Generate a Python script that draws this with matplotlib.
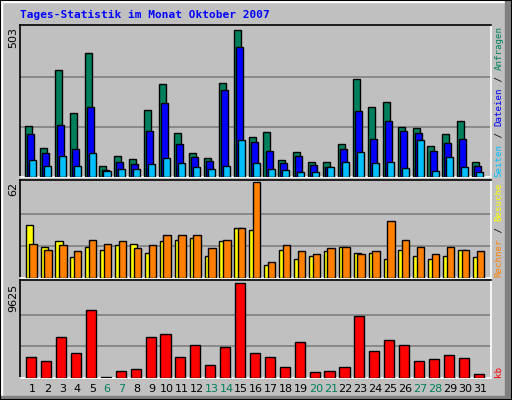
import matplotlib
matplotlib.use("Agg")
import matplotlib.pyplot as plt
from matplotlib.patches import Rectangle
import numpy as np

days = list(range(1, 32))
weekend = [6, 7, 13, 14, 20, 21, 27, 28]
hits  = [172,98,360,216,417,38,72,61,226,313,149,82,65,316,494,135,152,58,85,51,51,112,330,236,253,169,165,105,145,189,51]
files = [145,80,175,95,236,25,51,45,155,249,112,68,55,293,437,118,88,48,72,41,35,95,222,129,189,155,149,88,115,129,38]
pages = [58,38,69,36,82,20,28,28,45,65,48,35,28,38,125,48,28,25,18,18,35,51,85,48,51,31,125,21,68,35,18]
visits = [34.4,20.2,23.6,13.5,20.2,18.2,21.6,22.2,16.2,23.6,24.3,25.6,14.2,23.6,32.3,31.0,8.1,18.2,12.1,14.2,17.5,20.2,16.2,16.2,12.1,18.2,14.2,12.1,14.2,18.2,13.5]
sites = [22.2,18.2,21.6,17.5,24.3,22.2,23.6,19.5,21.6,27.6,27.6,27.6,19.5,24.3,32.3,62,10.1,21.6,17.5,15.5,19.5,20.2,15.5,17.5,37.1,24.3,20.2,15.5,20.2,18.2,17.5]
kbytes = [2115,1692,4125,2538,6875,106,740,952,4125,4442,2115,3385,1269,3173,9625,2538,2115,1163,3596,635,740,1163,6240,2750,3808,3385,1692,1904,2327,2010,423]
max_hits, max_visits, max_kb = 503, 62, 9625

W, H = 512, 400
BG = "#c0c0c0"
fig = plt.figure(figsize=(W/100, H/100), dpi=100, facecolor=BG)
mono = "DejaVu Sans Mono"
x = np.array(days)

def mkax(top, bottom):
    ax = fig.add_axes([20/W, 1-bottom/H, (491-20)/W, (bottom-top)/H])
    ax.set_facecolor(BG)
    ax.set_xlim(0.15, 31.74)
    ax.set_xticks([]); ax.set_yticks([])
    for s in ("top", "left"):
        ax.spines[s].set_color("black"); ax.spines[s].set_linewidth(1.2)
    for s in ("bottom", "right"):
        ax.spines[s].set_color("white"); ax.spines[s].set_linewidth(1.2)
    return ax

kw = dict(align="edge", edgecolor="black", linewidth=1, zorder=3)

ax1 = mkax(25, 177)
ax1.set_ylim(0, max_hits * 150/148)
for v in (max_hits/3, 2*max_hits/3):
    ax1.axhline(v, color="#808080", lw=1.2, zorder=1)
ax1.bar(x-0.52, hits, 0.47, color="#00805c", **kw)
ax1.bar(x-0.38, files, 0.47, color="#0000ff", **kw)
ax1.bar(x-0.25, pages, 0.47, color="#00c0ff", **kw)

ax2 = mkax(180, 278)
ax2.set_ylim(0, max_visits * 1.02)
for v in (max_visits/3, 2*max_visits/3):
    ax2.axhline(v, color="#808080", lw=1.2, zorder=1)
ax2.bar(x-0.47, visits, 0.5, color="#ffff00", **kw)
ax2.bar(x-0.23, sites, 0.5, color="#ff8000", **kw)

ax3 = mkax(280, 378)
ax3.set_ylim(0, max_kb * 1.03)
for v in (max_kb/3, 2*max_kb/3):
    ax3.axhline(v, color="#808080", lw=1.2, zorder=1)
ax3.bar(x-0.43, kbytes, 0.68, color="#ff0000", **kw)

for d in days:
    xp = (32.7 + (d-1)*14.9) / W
    fig.text(xp, 1-389/H, str(d), ha="center", va="center", fontsize=8,
             family="DejaVu Sans", color="#00805c" if d in weekend else "black")

fig.text(13/W, 1-27/H, str(max_hits), rotation=90, ha="center", va="top", fontsize=8, family="DejaVu Sans")
fig.text(13/W, 1-182/H, str(max_visits), rotation=90, ha="center", va="top", fontsize=8, family="DejaVu Sans")
fig.text(13/W, 1-284/H, str(max_kb), rotation=90, ha="center", va="top", fontsize=8, family="DejaVu Sans")

fig.text(20/W, 1-15/H, "Tages-Statistik im Monat Oktober 2007", ha="left", va="center",
         fontsize=8, family=mono, weight="bold", color="#0000ff")

FS = 6.6
CW = FS * 100/72 * 0.602

def vlabel(y0, parts):
    y = y0
    for txt, col in parts:
        fig.text(499/W, 1-y/H, txt, rotation=90, ha="center", va="bottom",
                 fontsize=FS, family=mono, color=col)
        y -= CW * len(txt) + 0.5

vlabel(177, [("Seiten", "#00c0ff"), (" / ", "black"), ("Dateien", "#0000ff"), (" / ", "black"), ("Anfragen", "#00805c")])
vlabel(277, [("Rechner", "#ff8000"), (" / ", "black"), ("Besuche", "#ffff00")])
vlabel(377, [("kb", "#ff0000")])

fig.patches.append(Rectangle((0, 1-2/H), 1, 2/H, transform=fig.transFigure, color="white", zorder=0))
fig.patches.append(Rectangle((0, 0), 2/W, 1, transform=fig.transFigure, color="white", zorder=0))
fig.patches.append(Rectangle((1-7/W, 0), 7/W, 1, transform=fig.transFigure, color="#808080", zorder=0))
fig.patches.append(Rectangle((0, 0), 1, 4/H, transform=fig.transFigure, color="#808080", zorder=0))
fig.patches.append(Rectangle((0, 0), 1, 1, transform=fig.transFigure, fill=False, edgecolor="black", lw=1.5, zorder=0))

fig.savefig("out.png", dpi=100, facecolor=BG)
